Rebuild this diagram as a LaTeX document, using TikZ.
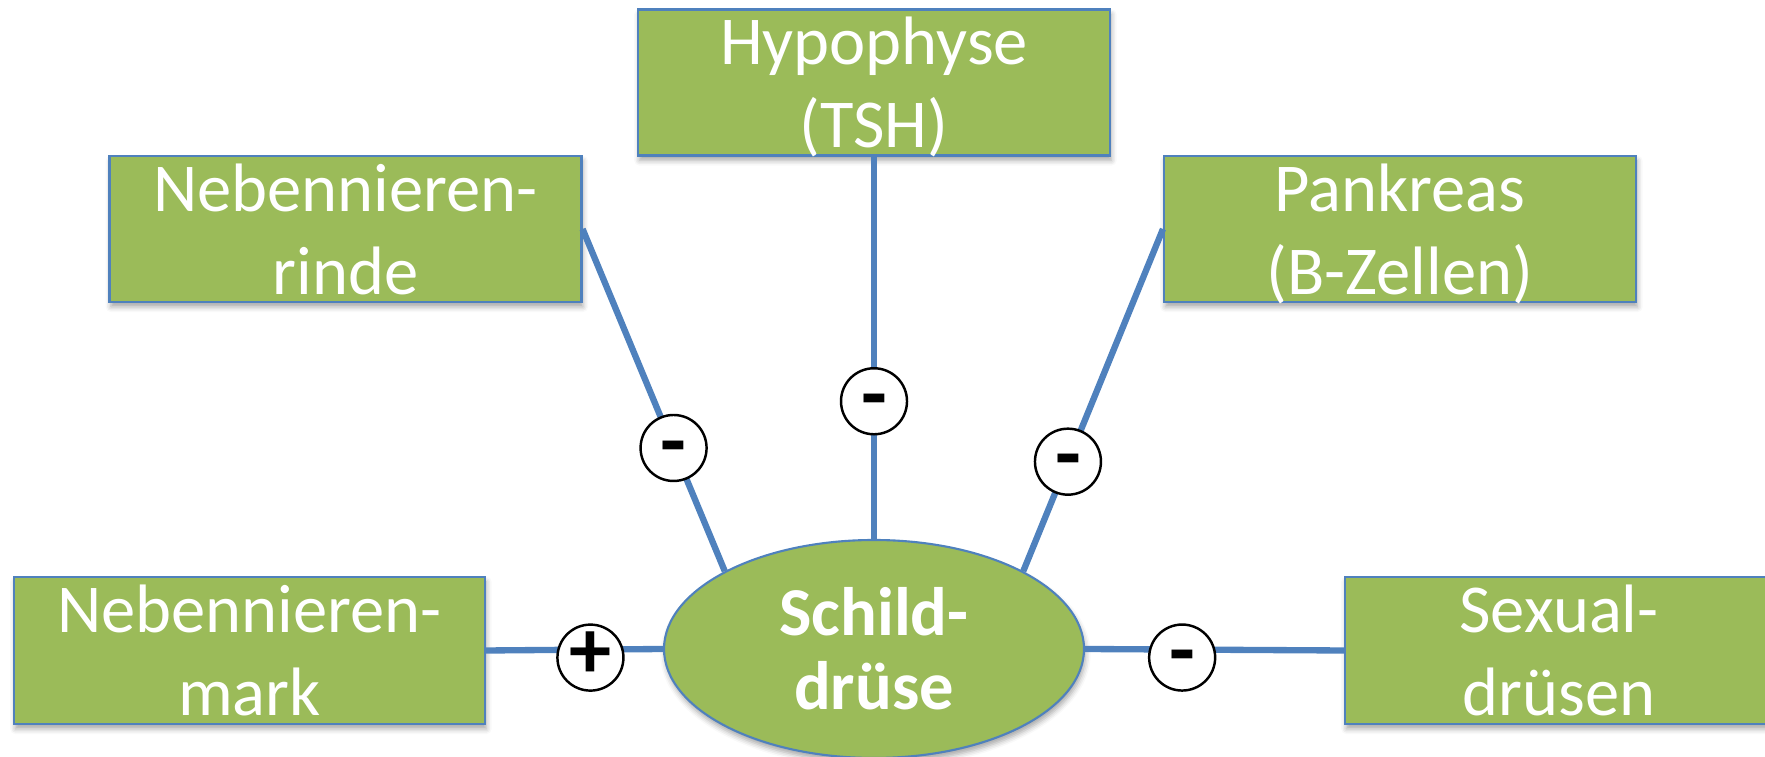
\documentclass[tikz,border=0pt]{standalone}
\usepackage{fontspec}
\setmainfont{Carlito}
\usetikzlibrary{shapes.geometric, shadows.blur}
\definecolor{organgruen}{HTML}{9BBB59}
\definecolor{organblau}{HTML}{4F81BD}
\tikzstyle{organ} = [rectangle, minimum width=4.72cm, minimum height=1.46cm, inner sep=0pt, align=center, text depth=0pt, draw=organblau, line width=0.6pt, fill=organgruen, text=white, font=\fontsize{19.5}{23.5}\selectfont, blur shadow={shadow xshift=0.4pt, shadow yshift=-1.4pt, shadow blur radius=1.5pt, shadow opacity=35}]
\tikzstyle{gland} = [ellipse, minimum width=4.2cm, minimum height=2.18cm, inner sep=0pt, align=center, draw=organblau, line width=0.6pt, fill=organgruen, text=white, font=\fontsize{19.5}{21}\selectfont\bfseries, blur shadow={shadow xshift=0.4pt, shadow yshift=-1.4pt, shadow blur radius=1.5pt, shadow opacity=35}]
\tikzstyle{effect} = [circle, draw=black, line width=0.7pt, fill=white, minimum size=0.66cm, inner sep=0pt, text height=12pt, text depth=0pt, font=\fontsize{24}{24}\selectfont\bfseries]
\tikzstyle{link} = [line width=1.8pt, draw=organblau]

\begin{document}
\begin{tikzpicture}

\useasboundingbox (0,0) rectangle (17.65,7.57);
\clip (0,0) rectangle (17.65,7.57);

\node (schild) [gland] at (8.74,1.08) {Schild-\\drüse};
\node (hypo) [organ] at (8.74,6.745) {Hypophyse\\(TSH)};
\node (rinde) [organ] at (3.455,5.28) {Nebennieren-\\rinde};
\node (pankreas) [organ] at (14.0,5.28) {Pankreas\\(B-Zellen)};
\node (mark) [organ, minimum width=4.71cm, minimum height=1.47cm] at (2.495,1.065) {Nebennieren-\\mark};
\node (sexual) [organ, minimum width=4.28cm, minimum height=1.47cm] at (15.59,1.065) {Sexual-\\drüsen};

\draw [link] (hypo) -- node[effect, pos=0.64] (s1) {-} (schild);
\draw [link] (rinde.east) -- node[effect, pos=0.64] (s2) {-} (schild.north west);
\draw [link] (pankreas.west) -- node[effect, pos=0.68] (s3) {-} (schild.north east);
\draw [link] (mark.east) -- node[effect, pos=0.59, yshift=-0.08cm] (s4) {+} (schild.west);
\draw [link] (schild.east) -- node[effect, pos=0.375, yshift=-0.08cm] (s5) {-} (sexual.west);

\end{tikzpicture}
\end{document}
